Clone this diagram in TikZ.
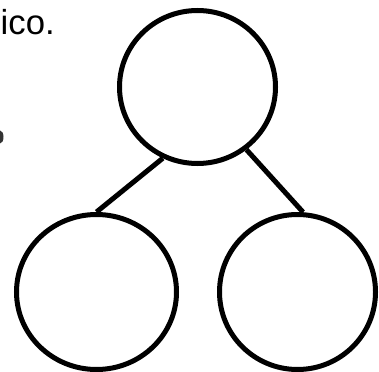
\documentclass[tikz,border=0pt]{standalone}
\usepackage{fontspec}
\setmainfont{Liberation Sans}
\usetikzlibrary{shapes.geometric}
\begin{document}
\begin{tikzpicture}[x=1pt,y=-1pt,
  circ/.style={ellipse,draw=black,line width=5pt,inner sep=0pt},
  link/.style={draw=black,line width=5pt}]
\useasboundingbox (0,0) rectangle (379,371);
\begin{scope}
\clip (0,0) rectangle (379,371);
\node[anchor=base west,inner sep=0pt,font=\fontsize{34.7}{40}\selectfont] (txt) at (0.5,35) {ico.};
\fill[black!80] (0,137) ellipse [x radius=3.5, y radius=6.5];
\node[circ,minimum width=156pt,minimum height=153pt] (top) at (197.5,87) {};
\node[circ,minimum width=160pt,minimum height=155pt] (bl) at (96.5,292) {};
\node[circ,minimum width=156pt,minimum height=155pt] (br) at (297.5,292) {};
\draw[link] (top.244) -- (bl.north);
\draw[link] (top.308) -- (br.86);
\end{scope}
\end{tikzpicture}
\end{document}
